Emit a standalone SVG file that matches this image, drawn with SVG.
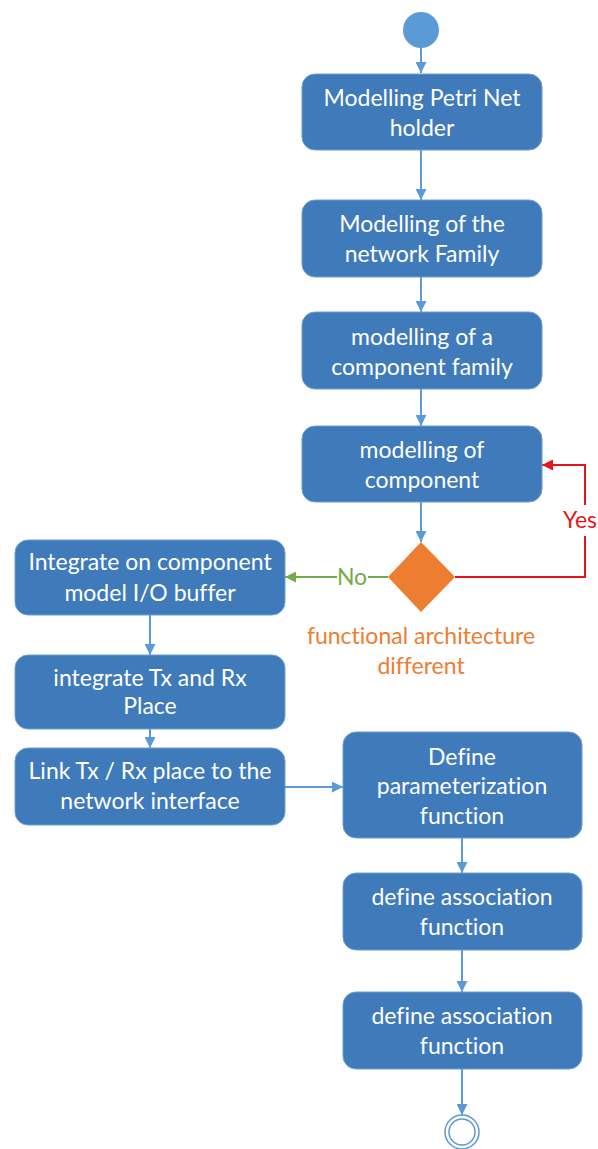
<svg xmlns="http://www.w3.org/2000/svg" width="598" height="1149" viewBox="0 0 598 1149">
<style>
.box{fill:#3F7ABB;stroke:#6FA0D2;stroke-width:1}
.t{font-family:Lato,"Open Sans",sans-serif;font-size:23px;fill:#FFFFFF;text-anchor:middle;font-variant-ligatures:none}
.c{stroke:#5B9BD5;stroke-width:2;fill:none}
.lbl{font-family:Lato,"Open Sans",sans-serif;font-size:23px;text-anchor:middle;font-variant-ligatures:none}
</style>
<defs>
<marker id="ab" viewBox="0 0 10 10" refX="10" refY="5" markerWidth="12" markerHeight="11" markerUnits="userSpaceOnUse" orient="auto"><path d="M0,0 L10,5 L0,10 z" fill="#5B9BD5"/></marker>
<marker id="ar" viewBox="0 0 10 10" refX="10" refY="5" markerWidth="12" markerHeight="11" markerUnits="userSpaceOnUse" orient="auto"><path d="M0,0 L10,5 L0,10 z" fill="#E8141B"/></marker>
<marker id="ag" viewBox="0 0 10 10" refX="10" refY="5" markerWidth="12" markerHeight="11" markerUnits="userSpaceOnUse" orient="auto"><path d="M0,0 L10,5 L0,10 z" fill="#70AD47"/></marker>
</defs>
<rect width="598" height="1149" fill="#FFFFFF"/>
<g id="connectors">
<path class="c" d="M421,48 V73" marker-end="url(#ab)"/>
<path class="c" d="M421,150 V200" marker-end="url(#ab)"/>
<path class="c" d="M421,277 V312" marker-end="url(#ab)"/>
<path class="c" d="M421,389 V426" marker-end="url(#ab)"/>
<path class="c" d="M421,502 V542" marker-end="url(#ab)"/>
<path d="M455,577 H585 V536 M585,505 V465 H542" fill="none" stroke="#E8141B" stroke-width="2" marker-end="url(#ar)"/>
<path d="M388,577 H368 M337,577 H285" fill="none" stroke="#70AD47" stroke-width="2" marker-end="url(#ag)"/>
<path class="c" d="M150,615 V655" marker-end="url(#ab)"/>
<path class="c" d="M150,729 V748" marker-end="url(#ab)"/>
<path class="c" d="M285,787 H343" marker-end="url(#ab)"/>
<path class="c" d="M462,838 V873" marker-end="url(#ab)"/>
<path class="c" d="M462,950 V992" marker-end="url(#ab)"/>
<path class="c" d="M462,1069 V1115" marker-end="url(#ab)"/>
<text class="lbl" x="597" y="528" fill="#E8141B" style="text-anchor:end">Yes</text>
<text class="lbl" x="352" y="585" fill="#70AD47">No</text>
</g>
<g id="start"><circle cx="421" cy="30" r="18" fill="#5B9BD5"/></g>
<g id="n1"><rect class="box" x="302" y="74" width="240" height="76" rx="13"/><text class="t" x="422" y="106">Modelling Petri Net</text><text class="t" x="422" y="136">holder</text></g>
<g id="n2"><rect class="box" x="302" y="200" width="240" height="77" rx="13"/><text class="t" x="422" y="232">Modelling of the</text><text class="t" x="422" y="262">network Family</text></g>
<g id="n3"><rect class="box" x="302" y="312" width="240" height="77" rx="13"/><text class="t" x="422" y="345">modelling of a</text><text class="t" x="422" y="375">component family</text></g>
<g id="n4"><rect class="box" x="302" y="426" width="240" height="76" rx="13"/><text class="t" x="422" y="458">modelling of</text><text class="t" x="422" y="488">component</text></g>
<g id="decision"><path d="M421,542 L455,577 L421,612 L388,577 Z" fill="#ED7D31"/><text class="lbl" x="421" y="644" fill="#ED7D31">functional architecture</text><text class="lbl" x="421" y="674" fill="#ED7D31">different</text></g>
<g id="n5"><rect class="box" x="15" y="540" width="270" height="75" rx="13"/><text class="t" x="150" y="570">Integrate on component</text><text class="t" x="150" y="601">model I/O buffer</text></g>
<g id="n6"><rect class="box" x="15" y="655" width="270" height="74" rx="13"/><text class="t" x="150" y="686">integrate Tx and Rx</text><text class="t" x="150" y="714">Place</text></g>
<g id="n7"><rect class="box" x="15" y="748" width="270" height="77" rx="13"/><text class="t" x="150" y="779">Link Tx / Rx place to the</text><text class="t" x="150" y="809">network interface</text></g>
<g id="n8"><rect class="box" x="343" y="732" width="239" height="106" rx="13"/><text class="t" x="462" y="765">Define</text><text class="t" x="462" y="794">parameterization</text><text class="t" x="462" y="824">function</text></g>
<g id="n9"><rect class="box" x="343" y="873" width="239" height="77" rx="13"/><text class="t" x="462" y="905">define association</text><text class="t" x="462" y="935">function</text></g>
<g id="n10"><rect class="box" x="343" y="992" width="239" height="77" rx="13"/><text class="t" x="462" y="1024">define association</text><text class="t" x="462" y="1054">function</text></g>
<g id="end"><circle cx="462" cy="1132" r="17" fill="#FFFFFF" stroke="#5B9BD5" stroke-width="1.5"/><circle cx="462" cy="1132" r="13" fill="none" stroke="#5B9BD5" stroke-width="1.5"/></g>
</svg>
